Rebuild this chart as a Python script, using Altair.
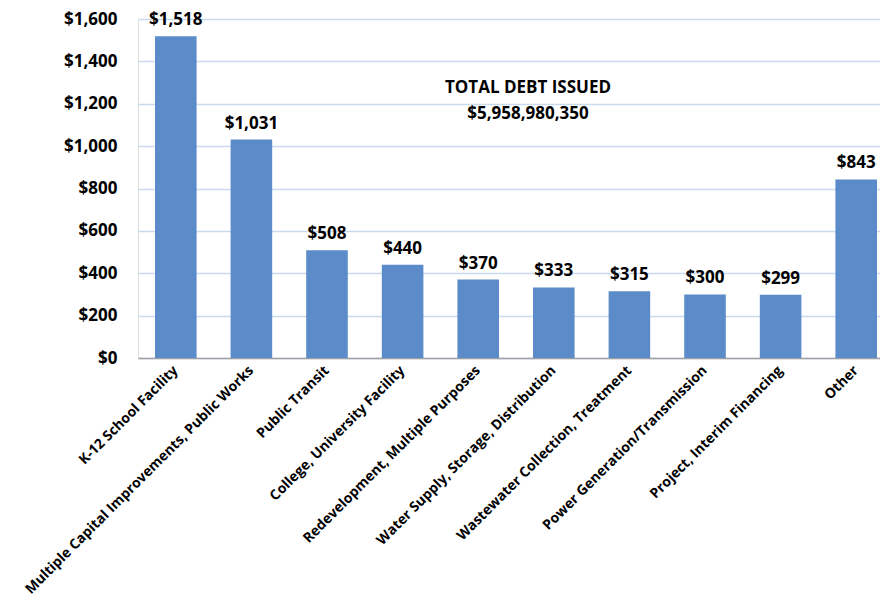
import altair as alt
import pandas as pd

categories = [
    "K-12 School Facility",
    "Multiple Capital Improvements, Public Works",
    "Public Transit",
    "College, University Facility",
    "Redevelopment, Multiple Purposes",
    "Water Supply, Storage, Distribution",
    "Wastewater Collection, Treatment",
    "Power Generation/Transmission",
    "Project, Interim Financing",
    "Other",
]
values = [1518, 1031, 508, 440, 370, 333, 315, 300, 299, 843]
labels = ["$1,518", "$1,031", "$508", "$440", "$370", "$333", "$315", "$300", "$299", "$843"]
y_ticks = [0, 200, 400, 600, 800, 1000, 1200, 1400, 1600]
note_lines = ["TOTAL DEBT ISSUED", "$5,958,980,350"]

df = pd.DataFrame({"cat": categories, "val": values, "lab": labels})
FONT = "Open Sans"

x = alt.X("cat:N", sort=categories, title=None,
          scale=alt.Scale(paddingInner=0.45, paddingOuter=0.225, range=[0, 756]),
          axis=alt.Axis(labelAngle=-45, labelAlign="right", labelBaseline="middle",
                        labelFont=FONT, labelFontWeight="bold", labelFontSize=14,
                        labelColor="#000000", labelPadding=10, ticks=False,
                        domainColor="#A0A0A0", domainWidth=1.5, grid=False,
                        labelLimit=400))
y = alt.Y("val:Q", title=None,
          scale=alt.Scale(domain=[0, 1600], nice=False),
          axis=alt.Axis(values=y_ticks, format="$,.0f", labelFont=FONT,
                        labelFontWeight="bold", labelFontSize=17, labelColor="#000000",
                        labelPadding=21, ticks=False, domain=False,
                        gridColor="#C9D9EE", gridWidth=1.5))

bars = alt.Chart(df).mark_bar(color="#5B8BC8").encode(x=x, y=y)
texts = alt.Chart(df).mark_text(dy=-16, font=FONT, fontWeight="bold", fontSize=17,
                                color="#000000").encode(x=x, y=y, text="lab:N")
base = alt.layer(bars, texts)

note_df = pd.DataFrame({"t": note_lines, "i": [0, 1]})
note = alt.Chart(note_df).mark_text(font=FONT, fontWeight="bold", fontSize=17,
                                    color="#000000").encode(
    x=alt.value(390),
    y=alt.Y("i:Q", axis=None, scale=alt.Scale(domain=[0, 1], range=[69, 95])),
    text="t:N")

chart = alt.layer(base, note).resolve_scale(y="independent").properties(
    width=742, height=339,
    autosize=alt.AutoSizeParams(type="none"),
    padding={"left": 130, "top": 11, "right": 0, "bottom": 244},
).configure_view(stroke=None).configure(background="#FFFFFF")

chart.save("out.html", embed_options={"renderer": "svg", "actions": False})
